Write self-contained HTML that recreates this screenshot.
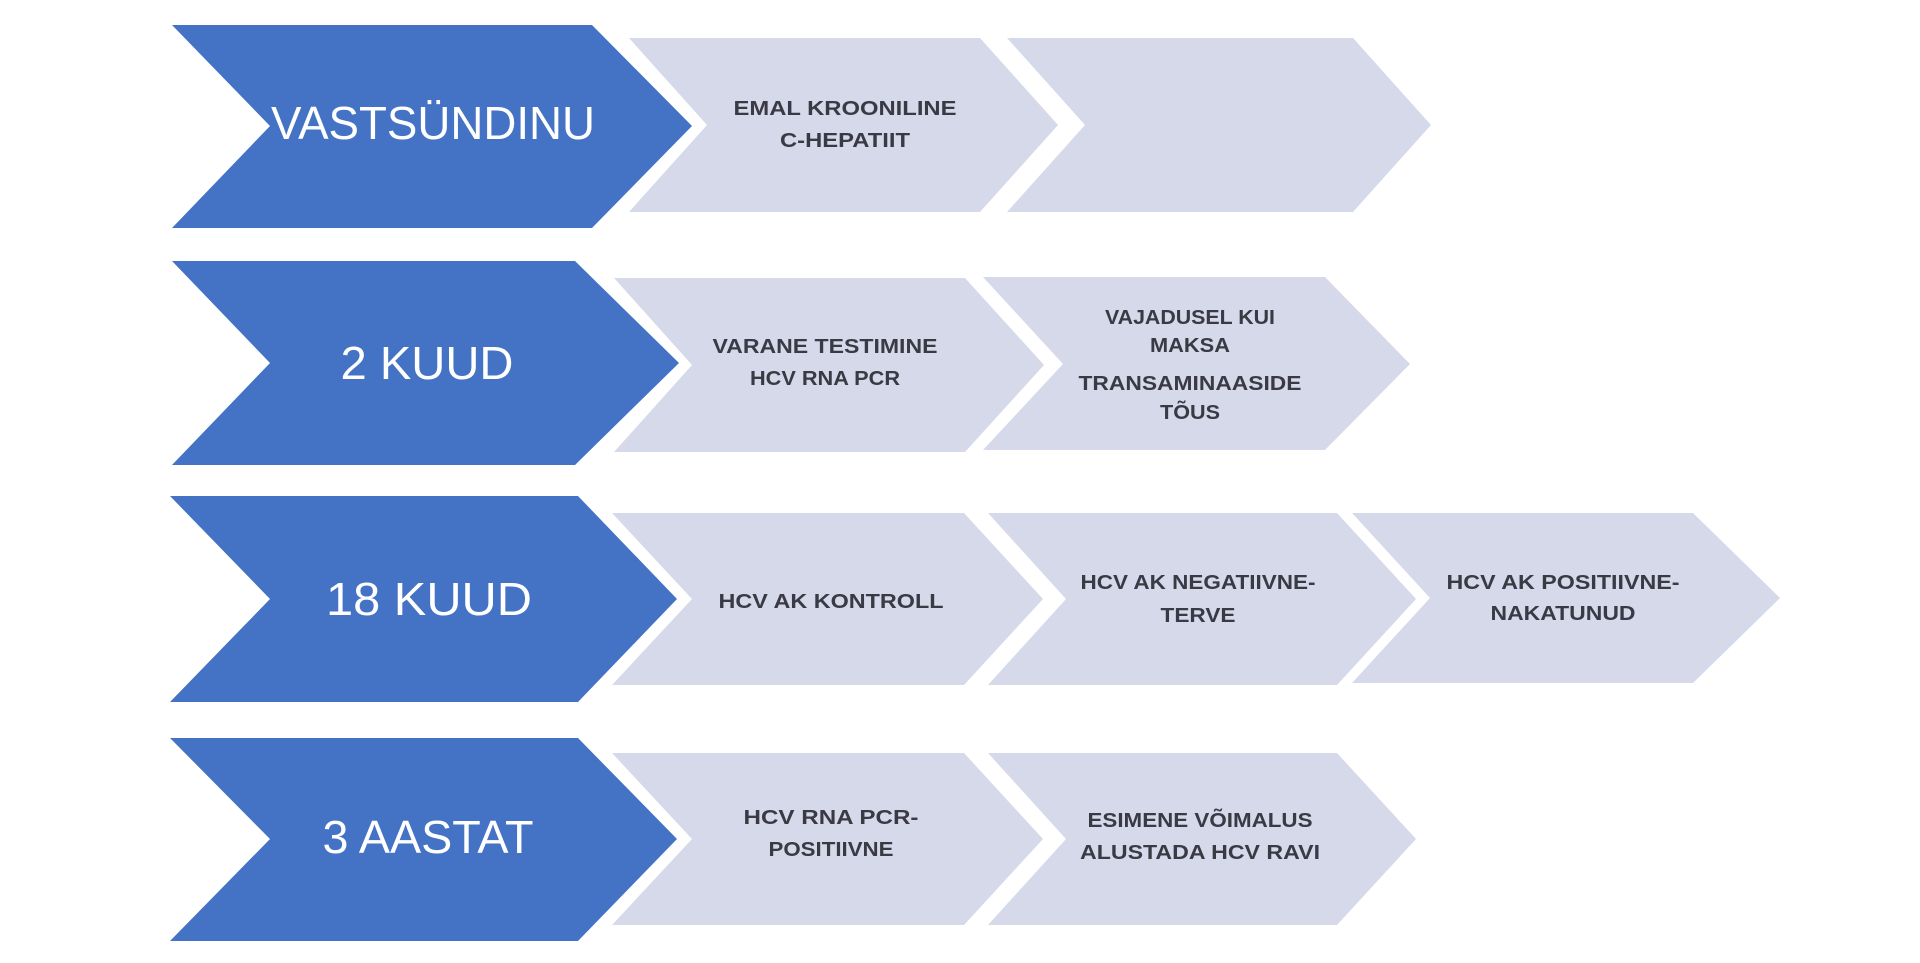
<!DOCTYPE html>
<html><head><meta charset="utf-8"><style>
html,body{margin:0;padding:0;background:#fff;}
svg{display:block;}
.b{fill:#4472C4;}
.l{fill:#D5D9EA;}
.bt{font-family:"Liberation Sans",sans-serif;fill:#fff;font-size:46px;text-anchor:middle;}
.lt{font-family:"Liberation Sans",sans-serif;fill:#3a3a44;font-size:20px;font-weight:bold;text-anchor:middle;}
</style></head><body>
<svg width="1920" height="963" viewBox="0 0 1920 963" xmlns="http://www.w3.org/2000/svg">
<!-- row 1 -->
<polygon class="b" points="172,25 592,25 692,126 592,228 172,228 270,126"/>
<polygon class="l" points="629,38 980,38 1058,125 980,212 629,212 707,125"/>
<polygon class="l" points="1007,38 1353,38 1431,125 1353,212 1007,212 1085,125"/>
<!-- row 2 -->
<polygon class="b" points="172,261 575,261 679,363 575,465 172,465 270,363"/>
<polygon class="l" points="614,278 965,278 1044,365 965,452 614,452 692,365"/>
<polygon class="l" points="983,277 1325,277 1410,364 1325,450 983,450 1063,364"/>
<!-- row 3 -->
<polygon class="b" points="170,496 578,496 677,599 578,702 170,702 270,599"/>
<polygon class="l" points="612,513 964,513 1043,599 964,685 612,685 692,599"/>
<polygon class="l" points="988,513 1337,513 1416,599 1337,685 988,685 1066,599"/>
<polygon class="l" points="1352,513 1693,513 1780,598 1693,683 1352,683 1430,598"/>
<!-- row 4 -->
<polygon class="b" points="170,738 578,738 677,839 578,941 170,941 270,839"/>
<polygon class="l" points="612,753 964,753 1043,839 964,925 612,925 692,839"/>
<polygon class="l" points="988,753 1337,753 1416,839 1337,925 988,925 1066,839"/>

<!-- blue labels -->
<text class="bt" x="433" y="139" textLength="324" lengthAdjust="spacingAndGlyphs">VASTSÜNDINU</text>
<text class="bt" x="427" y="379" textLength="173" lengthAdjust="spacingAndGlyphs">2 KUUD</text>
<text class="bt" x="429" y="615" textLength="206" lengthAdjust="spacingAndGlyphs">18 KUUD</text>
<text class="bt" x="428" y="853" textLength="211" lengthAdjust="spacingAndGlyphs">3 AASTAT</text>

<!-- light labels -->
<text class="lt" x="845" y="115" textLength="223" lengthAdjust="spacingAndGlyphs">EMAL KROONILINE</text>
<text class="lt" x="845" y="147" textLength="130" lengthAdjust="spacingAndGlyphs">C-HEPATIIT</text>

<text class="lt" x="825" y="353" textLength="225" lengthAdjust="spacingAndGlyphs">VARANE TESTIMINE</text>
<text class="lt" x="825" y="385" textLength="150" lengthAdjust="spacingAndGlyphs">HCV RNA PCR</text>

<text class="lt" x="1190" y="324" textLength="170" lengthAdjust="spacingAndGlyphs">VAJADUSEL KUI</text>
<text class="lt" x="1190" y="352" textLength="80" lengthAdjust="spacingAndGlyphs">MAKSA</text>
<text class="lt" x="1190" y="390" textLength="223" lengthAdjust="spacingAndGlyphs">TRANSAMINAASIDE</text>
<text class="lt" x="1190" y="419" textLength="60" lengthAdjust="spacingAndGlyphs">TÕUS</text>

<text class="lt" x="831" y="608" textLength="225" lengthAdjust="spacingAndGlyphs">HCV AK KONTROLL</text>

<text class="lt" x="1198" y="589" textLength="235" lengthAdjust="spacingAndGlyphs">HCV AK NEGATIIVNE-</text>
<text class="lt" x="1198" y="622" textLength="75" lengthAdjust="spacingAndGlyphs">TERVE</text>

<text class="lt" x="1563" y="589" textLength="233" lengthAdjust="spacingAndGlyphs">HCV AK POSITIIVNE-</text>
<text class="lt" x="1563" y="620" textLength="145" lengthAdjust="spacingAndGlyphs">NAKATUNUD</text>

<text class="lt" x="831" y="824" textLength="175" lengthAdjust="spacingAndGlyphs">HCV RNA PCR-</text>
<text class="lt" x="831" y="856" textLength="125" lengthAdjust="spacingAndGlyphs">POSITIIVNE</text>

<text class="lt" x="1200" y="827" textLength="225" lengthAdjust="spacingAndGlyphs">ESIMENE VÕIMALUS</text>
<text class="lt" x="1200" y="859" textLength="240" lengthAdjust="spacingAndGlyphs">ALUSTADA HCV RAVI</text>
</svg>
</body></html>
